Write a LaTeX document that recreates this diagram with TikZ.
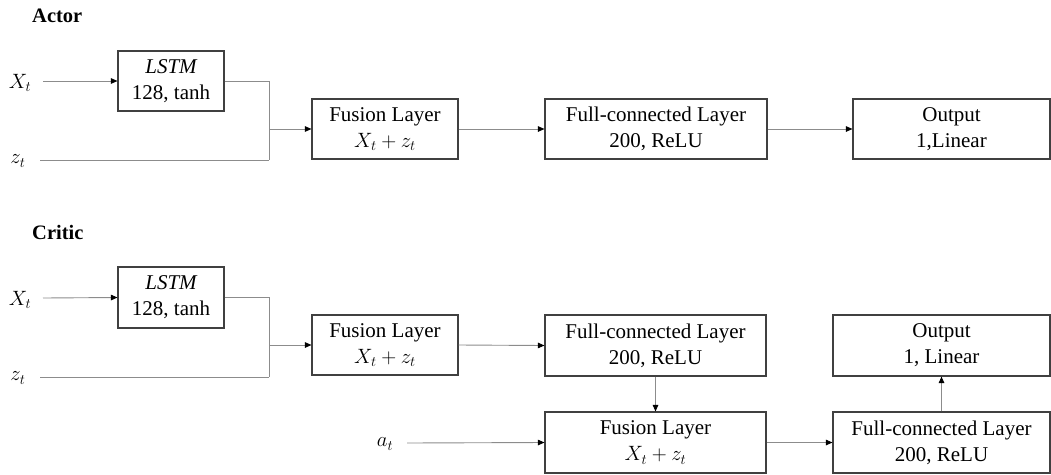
\documentclass[tikz,border=0pt]{standalone}
\usepackage{fontspec}
\setmainfont{Liberation Serif}
\usetikzlibrary{arrows.meta}
\begin{document}
\begin{tikzpicture}[x=1pt,y=-1pt,
  boxst/.style={draw=black!75, line width=1.1pt, inner sep=0pt, align=center,
    font=\fontsize{21}{26}\selectfont},
  lbl/.style={inner sep=0pt, font=\fontsize{22}{26}\selectfont},
  ttl/.style={inner sep=0pt, anchor=west, font=\fontsize{20.5}{24}\selectfont\bfseries},
  conn/.style={draw=black!45, line width=0.9pt},
  arr/.style={conn, -{Triangle[length=6.5pt,width=5.5pt,fill=black,color=black]}}
]
\useasboundingbox (0,0) rectangle (1051,474);

% ---------- Actor ----------
\node[ttl] (tA) at (32,16) {Actor};
\node[boxst, minimum width=106pt, minimum height=60pt] (lstmA) at (171,81) {$\mathit{LSTM}$\\128, tanh};
\node[boxst, minimum width=146pt, minimum height=60pt] (fusA) at (385,129) {Fusion Layer\\$X_t+z_t$};
\node[boxst, minimum width=222pt, minimum height=60pt] (fcA) at (656,129) {Full-connected Layer\\200, ReLU};
\node[boxst, minimum width=197pt, minimum height=60pt] (outA) at (951.5,129) {Output\\1,Linear};
\node[lbl] (XA) at (20,83) {$X_t$};
\node[lbl] (zA) at (18,161) {$z_t$};
\coordinate (sXA) at (43,81);
\coordinate (szA) at (40,160);
\coordinate (jA) at (269,129);
\coordinate (jzA) at (269,160);

\draw[arr] (sXA) -- (lstmA.west);
\draw[conn] (lstmA.east) -| (jzA);
\draw[conn] (szA) -- (jzA);
\draw[arr] (jA) -- (fusA.west);
\draw[arr] (fusA.east) -- (fcA.west);
\draw[arr] (fcA.east) -- (outA.west);

% ---------- Critic ----------
\node[ttl] (tC) at (32,232) {Critic};
\node[boxst, minimum width=106pt, minimum height=61pt] (lstmC) at (171,297.5) {$\mathit{LSTM}$\\128, tanh};
\node[boxst, minimum width=146pt, minimum height=60pt] (fusC) at (385,345) {Fusion Layer\\$X_t+z_t$};
\node[boxst, minimum width=221pt, minimum height=61pt] (fcC) at (655.5,345.5) {Full-connected Layer\\200, ReLU};
\node[boxst, minimum width=221pt, minimum height=61pt] (fus2C) at (655.5,442.5) {Fusion Layer\\$X_t+z_t$};
\node[boxst, minimum width=217pt, minimum height=61pt] (outC) at (941.5,345.5) {Output\\1, Linear};
\node[boxst, minimum width=217pt, minimum height=61pt] (fc2C) at (941.5,442.5) {Full-connected Layer\\200, ReLU};
\node[lbl] (XC) at (20,300) {$X_t$};
\node[lbl] (zC) at (18,378) {$z_t$};
\node[lbl] (aC) at (385,444) {$a_t$};
\coordinate (sXC) at (43,298);
\coordinate (szC) at (40,377);
\coordinate (saC) at (407,443);
\coordinate (jC) at (269,345);
\coordinate (jzC) at (269,377);

\draw[arr] (sXC) -- (lstmC.west);
\draw[conn] (lstmC.east) -| (jzC);
\draw[conn] (szC) -- (jzC);
\draw[arr] (jC) -- (fusC.west);
\draw[arr] (fusC.east) -- (fcC.west);
\draw[arr] (fcC.south) -- (fus2C.north);
\draw[arr] (saC) -- (fus2C.west);
\draw[arr] (fus2C.east) -- (fc2C.west);
\draw[arr] (fc2C.north) -- (outC.south);
\end{tikzpicture}
\end{document}
